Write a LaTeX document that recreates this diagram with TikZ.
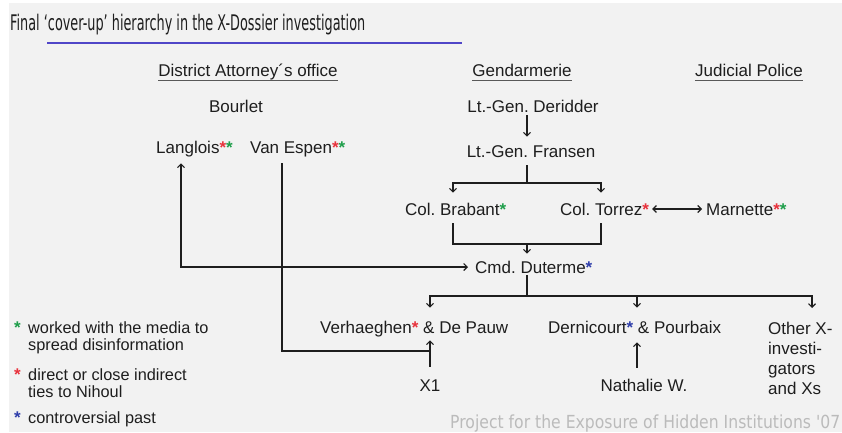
\documentclass[tikz,border=0pt]{standalone}
\usepackage{fontspec}
\usepackage{graphicx}
\setmainfont{Liberation Sans}
\newfontfamily\titlefont{DejaVu Sans}
\usetikzlibrary{arrows.meta}
\definecolor{bg}{HTML}{F2F2F2}
\definecolor{ink}{HTML}{1E1E1E}
\definecolor{sgreen}{HTML}{1E9E4A}
\definecolor{sred}{HTML}{E8323C}
\definecolor{sblue}{HTML}{2E3DAA}
\definecolor{titleline}{HTML}{5046C8}
\definecolor{foot}{HTML}{BBBBBB}
\newcommand\gstar{\textcolor{sgreen}{\textbf{*}}}
\newcommand\rstar{\textcolor{sred}{\textbf{*}}}
\newcommand\bstar{\textcolor{sblue}{\textbf{*}}}
\frenchspacing
\begin{document}
\begin{tikzpicture}[x=1pt,y=-1pt,
  txt/.style={inner sep=0pt, text height=12.2pt, text depth=0pt, text=ink, font=\fontsize{17pt}{20pt}\selectfont},
  multi/.style={inner sep=0pt, text=ink, align=left, anchor=north west, font=\fontsize{17pt}{20pt}\selectfont},
  leg/.style={inner sep=0pt, text=ink, align=left, anchor=north west, font=\fontsize{16.3pt}{17.5pt}\selectfont},
  line/.style={draw=ink, line width=1.1pt},
  arr/.style={line, -{Straight Barb[length=3.5pt,width=7pt]}},
  darr/.style={line, {Straight Barb[length=3.5pt,width=7pt]}-{Straight Barb[length=3.5pt,width=7pt]}},
  ul/.style={draw=black!65, line width=1.6pt}
]
\useasboundingbox (0,0) rectangle (842,432);
\fill[bg] (9,3) rectangle (842,432);

% title
\node[anchor=base west, inner sep=0pt, text=ink, font=\titlefont\fontsize{21.5pt}{24pt}\selectfont] (title) at (10,30)
  {\resizebox{355pt}{\height}{Final ‘cover-up’ hierarchy in the X-Dossier investigation}};
\draw[titleline, line width=1.2pt] (47,43) -- (462,43);

% headers
\node[txt] (hDA) at (248,70) {District Attorney´s office};
\node[txt] (hG) at (522,70) {Gendarmerie};
\node[txt] (hJP) at (749,70) {Judicial Police};
\foreach \h in {hDA,hG,hJP}{
  \draw[ul] ([yshift=-4pt]\h.south west) -- ([yshift=-4pt]\h.south east);
}

% people
\node[txt] (bourlet) at (236,106) {Bourlet};
\node[txt, anchor=west] (langlois) at (156,147) {Langlois\rstar\gstar};
\node[txt, anchor=west] (vanespen) at (250,147) {Van Espen\rstar\gstar};
\node[txt] (deridder) at (533,106) {Lt.-Gen. Deridder};
\node[txt] (fransen) at (531,151) {Lt.-Gen. Fransen};
\node[txt, anchor=west] (brabant) at (405,209) {Col. Brabant\gstar};
\node[txt, anchor=west] (torrez) at (560,209) {Col. Torrez\rstar};
\node[txt, anchor=west] (marnette) at (706,209) {Marnette\rstar\gstar};
\node[txt, anchor=west] (duterme) at (475,267) {Cmd. Duterme\bstar};
\node[txt, anchor=west] (verh) at (320,327) {Verhaeghen\rstar{} \& De Pauw};
\node[txt, anchor=west] (dern) at (548,327) {Dernicourt\bstar{} \& Pourbaix};
\node[multi] (other) at (768,322) {Other X-\\investi-\\gators\\and Xs};
\node[txt] (x1) at (430,385) {X1};
\node[txt] (nath) at (644,385) {Nathalie W.};

% column coordinates
\coordinate (cg) at (527,0);
\coordinate (cb) at (453,0);
\coordinate (ct) at (601,0);
\coordinate (cl) at (181,0);
\coordinate (cv) at (282,0);
\coordinate (cx) at (430,0);
\coordinate (cd) at (637,0);
\coordinate (co) at (812,0);
\coordinate (j1) at (527,183);
\coordinate (j2) at (527,244);
\coordinate (j3) at (527,296);
\coordinate (j4) at (430,351);

% connectors
\draw[arr] ([yshift=-3pt]deridder.south -| cg) -- ([yshift=8pt]fransen.north -| cg);
\draw[line] ([yshift=-8pt]fransen.south -| cg) -- (j1);
\draw[arr] (j1) -| ([yshift=10pt]brabant.north -| cb);
\draw[arr] (j1) -| ([yshift=10pt]torrez.north -| ct);
\draw[darr] ([xshift=3pt]torrez.east) -- ([xshift=-4pt]marnette.west);
\draw[line] ([yshift=-8pt]brabant.south -| cb) |- (j2) -| ([yshift=-8pt]torrez.south -| ct);
\draw[arr] (j2) -- ([yshift=7pt]duterme.north -| cg);
\draw[darr] ([yshift=-10pt]langlois.south -| cl) |- ([xshift=-7pt]duterme.west);
\draw[line] ([yshift=-10pt]vanespen.south -| cv) |- (j4);
\draw[arr] ([yshift=12pt]x1.north) -- ([yshift=-7pt]verh.south -| cx);
\draw[line] ([yshift=-2pt]duterme.south -| cg) -- (j3);
\draw[arr] (j3) -| ([yshift=13pt]verh.north -| cx);
\draw[arr] (j3) -| ([yshift=13pt]dern.north -| cd);
\draw[arr] (j3) -| ([yshift=14pt]other.north -| co);
\draw[arr] ([yshift=11pt]nath.north -| cd) -- ([yshift=-9pt]dern.south -| cd);

% legend
\node[txt, anchor=west] (s1) at (14,327) {\gstar};
\node[txt, anchor=west] (s2) at (14,374) {\rstar};
\node[txt, anchor=west] (s3) at (14,417) {\bstar};
\node[leg] (l1) at (28,321) {worked with the media to\\spread disinformation};
\node[leg] (l2) at (28,368) {direct or close indirect\\ties to Nihoul};
\node[leg] (l3) at (28,411) {controversial past};

% footer
\node[anchor=base west, inner sep=0pt, text=foot, font=\titlefont\fontsize{18pt}{20pt}\selectfont] (foot) at (450,428)
  {\resizebox{390pt}{\height}{Project for the Exposure of Hidden Institutions '07}};
\end{tikzpicture}
\end{document}
